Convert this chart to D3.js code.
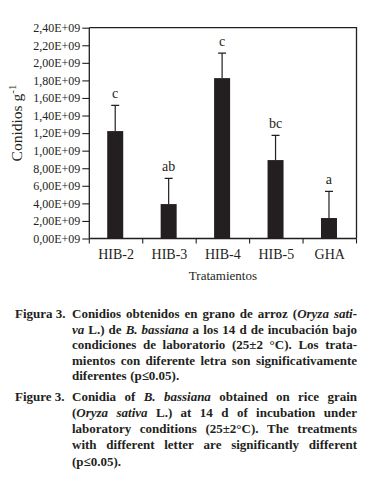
<!DOCTYPE html>
<html><head><meta charset="utf-8">
<script src="https://cdn.jsdelivr.net/npm/d3@7"></script>
<style>
html,body{margin:0;padding:0;background:#fff;}
svg{display:block;}
</style></head>
<body>
<svg id="c" width="378" height="477"></svg>
<script>
const categories = ["HIB-2","HIB-3","HIB-4","HIB-5","GHA"];
const means = [1.223e9, 0.392e9, 1.826e9, 0.893e9, 0.233e9];
const errors = [0.292e9, 0.293e9, 0.284e9, 0.281e9, 0.304e9];
const letters = ["c","ab","c","bc","a"];
const yTickValues = [0,0.2e9,0.4e9,0.6e9,0.8e9,1.0e9,1.2e9,1.4e9,1.6e9,1.8e9,2.0e9,2.2e9,2.4e9];
const yTickLabels = ["0,00E+09","2,00E+09","4,00E+09","6,00E+09","8,00E+09","1,00E+09","1,20E+09","1,40E+09","1,60E+09","1,80E+09","2,00E+09","2,20E+09","2,40E+09"];
const yTitle = "Conidios g";
const yTitleSup = "-1";
const xTitle = "Tratamientos";
const captionES = [
  [["Conidios obtenidos en grano de arroz (",0],["Oryza sati-",1]],
  [["va",1],[" L.) de ",0],["B. bassiana",1],[" a los 14 d de incubación bajo",0]],
  [["condiciones de laboratorio (25±2 °C). Los trata-",0]],
  [["mientos con diferente letra son significativamente",0]],
  [["diferentes (p≤0.05).",0]]
];
const captionEN = [
  [["Conidia of ",0],["B. bassiana",1],[" obtained on rice grain",0]],
  [["(",0],["Oryza sativa",1],[" L.) at 14 d of incubation under",0]],
  [["laboratory conditions (25±2°C). The treatments",0]],
  [["with different letter are significantly different",0]],
  [["(p≤0.05).",0]]
];
const labelES = "Figura 3.";
const labelEN = "Figure 3.";

const svg = d3.select("#c");
const serif = "'Liberation Serif','Times New Roman',serif";
const L = 89.3, R = 356.5, T = 27.7, B = 238.5;
const ink = "#231f20";

const x = d3.scaleBand().domain(categories).range([L, R]).paddingInner(0).paddingOuter(0);
const y = d3.scaleLinear().domain([0, 2.4e9]).range([B, T]);

// frame top/right
svg.append("path").attr("d", `M${L},${T}H${R}V${B}`).attr("fill","none").attr("stroke",ink).attr("stroke-width",1.3);

// y axis
const yAxis = d3.axisLeft(y).tickValues(yTickValues).tickSize(7).tickPadding(2)
  .tickFormat((d,i)=>yTickLabels[i]);
const gy = svg.append("g").attr("transform",`translate(${L},0)`).call(yAxis);
gy.select(".domain").attr("stroke",ink).attr("stroke-width",1.3).attr("d",`M0,${T}V${B}`);
gy.selectAll(".tick line").attr("stroke",ink).attr("stroke-width",1.1);
gy.selectAll(".tick text").attr("font-family",serif).attr("font-size",12).attr("fill",ink);

// x axis (ticks at band boundaries)
const gx = svg.append("g").attr("transform",`translate(0,${B})`);
gx.append("line").attr("x1",L).attr("x2",R).attr("stroke",ink).attr("stroke-width",1.3);
const bounds = categories.map(c=>x(c)).concat([x(categories[categories.length-1])+x.bandwidth()]);
gx.selectAll("line.tk").data(bounds).join("line").attr("class","tk")
  .attr("x1",d=>d).attr("x2",d=>d).attr("y1",0).attr("y2",5).attr("stroke",ink).attr("stroke-width",1.1);
gx.selectAll("text").data(categories).join("text")
  .attr("x",d=>x(d)+x.bandwidth()/2).attr("y",20)
  .attr("text-anchor","middle").attr("font-family",serif).attr("font-size",14).attr("fill",ink)
  .text(d=>d);

// bars
const bw = 16;
const cx = d => x(d)+x.bandwidth()/2 - 0.8;
svg.selectAll("rect.bar").data(categories).join("rect").attr("class","bar")
  .attr("x",d=>cx(d)-bw/2).attr("width",bw)
  .attr("y",(d,i)=>y(means[i])).attr("height",(d,i)=>B-y(means[i]))
  .attr("fill",ink);
// error bars
svg.selectAll("path.err").data(categories).join("path").attr("class","err")
  .attr("d",(d,i)=>{const c=cx(d), t=y(means[i]+errors[i]);return `M${c},${y(means[i])}V${t}M${c-4},${t}H${c+4}`;})
  .attr("stroke",ink).attr("stroke-width",1.2).attr("fill","none");
// letters
svg.selectAll("text.let").data(categories).join("text").attr("class","let")
  .attr("x",d=>cx(d)).attr("y",(d,i)=>y(means[i]+errors[i])-7)
  .attr("text-anchor","middle").attr("font-family",serif).attr("font-size",14).attr("fill",ink)
  .text((d,i)=>letters[i]);

// axis titles
const yt = svg.append("text").attr("transform","translate(22,123) rotate(-90)")
  .attr("text-anchor","middle").attr("font-family",serif).attr("font-size",15.5).attr("fill",ink);
yt.append("tspan").text(yTitle);
yt.append("tspan").attr("dy",-6).attr("font-size",11).text(yTitleSup);
svg.append("text").attr("x",(L+R)/2).attr("y",280).attr("text-anchor","middle")
  .attr("font-family",serif).attr("font-size",13).attr("fill",ink).text(xTitle);

// caption
const capL = 72, capR = 357, fs = 13;
function words(runs){
  const out=[]; let cur=[];
  runs.forEach(([t,it])=>{
    const parts=t.split(" ");
    parts.forEach((p,k)=>{
      if(k>0){ if(cur.length) out.push(cur); cur=[]; }
      if(p.length) cur.push([p,it]);
    });
  });
  if(cur.length) out.push(cur);
  return out;
}
function drawPara(label, lines, y0, dy){
  svg.append("text").attr("x",15).attr("y",y0).attr("font-family",serif).attr("font-weight","bold")
    .attr("font-size",fs).attr("fill",ink).text(label);
  lines.forEach((runs,li)=>{
    const ws = words(runs);
    const g = svg.append("g");
    const nodes = ws.map(w=>{
      const t = g.append("text").attr("y",y0+li*dy).attr("font-family",serif).attr("font-weight","bold")
        .attr("font-size",fs).attr("fill",ink);
      w.forEach(([s,it])=>t.append("tspan").attr("font-style",it?"italic":"normal").text(s));
      return t;
    });
    const widths = nodes.map(n=>n.node().getComputedTextLength());
    const total = d3.sum(widths);
    const last = li===lines.length-1;
    const gap = (last||ws.length<2) ? fs*0.27 : (capR-capL-total)/(ws.length-1);
    let xx = capL;
    nodes.forEach((n,k)=>{ n.attr("x",xx); xx += widths[k]+gap; });
  });
}
drawPara(labelES, captionES, 318, 15.6);
drawPara(labelEN, captionEN, 400.8, 16.2);
</script>
</body></html>
